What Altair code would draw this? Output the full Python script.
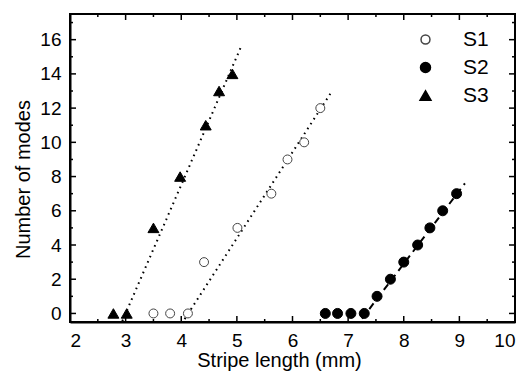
import altair as alt
import pandas as pd

# ---- data ----
s1_x = [3.5, 3.8, 4.12, 4.41, 5.01, 5.62, 5.91, 6.21, 6.5]
s1_y = [0, 0, 0, 3, 5, 7, 9, 10, 12]
s2_x = [6.59, 6.81, 7.05, 7.29, 7.52, 7.76, 8.0, 8.25, 8.47, 8.7, 8.95]
s2_y = [0, 0, 0, 0, 1, 2, 3, 4, 5, 6, 7]
s3_x = [2.78, 3.02, 3.5, 3.98, 4.44, 4.68, 4.92]
s3_y = [0, 0, 5, 8, 11, 13, 14]

# fitted straight lines (end points)
fit_series = ["S1", "S1", "S2", "S2", "S3", "S3"]
fit_x = [4.06, 6.68, 7.25, 9.1, 2.94, 5.09]
fit_y = [-0.33, 12.84, -0.3, 7.6, -0.45, 15.7]

series_names = ["S1", "S2", "S3"]
x_major = [2, 3, 4, 5, 6, 7, 8, 9, 10]
x_minor = [2.5, 3.5, 4.5, 5.5, 6.5, 7.5, 8.5, 9.5]
y_major = [0, 2, 4, 6, 8, 10, 12, 14, 16]
y_minor = [1, 3, 5, 7, 9, 11, 13, 15, 17]

W, H = 445, 308
FONT = "Liberation Sans"

pts = pd.DataFrame(
    {"x": s1_x + s2_x + s3_x,
     "y": s1_y + s2_y + s3_y,
     "series": ["S1"] * len(s1_x) + ["S2"] * len(s2_x) + ["S3"] * len(s3_x)}
)
fits = pd.DataFrame({"x": fit_x, "y": fit_y, "fit": fit_series})

xscale = alt.Scale(domain=[2, 10], nice=False, zero=False)
yscale = alt.Scale(domain=[-0.5, 17.5], nice=False, zero=False)

x_enc = alt.X("x:Q", scale=xscale,
              axis=alt.Axis(title="Stripe length (mm)", values=x_major, format="d",
                            titleX=209))
y_enc = alt.Y("y:Q", scale=yscale,
              axis=alt.Axis(title="Number of modes", values=y_major, format="d",
                            titleY=165))

dotted = alt.Chart(fits).transform_filter(alt.datum.fit != "S2").mark_line(
    strokeWidth=2, color="black", strokeDash=[1.6, 4.2]
).encode(x=x_enc, y=y_enc, detail="fit:N")
dashed = alt.Chart(fits).transform_filter(alt.datum.fit == "S2").mark_line(
    strokeWidth=2, color="black", strokeDash=[7, 5]
).encode(x=x_enc, y=y_enc, detail="fit:N")

points = alt.Chart(pts).mark_point(strokeWidth=1, opacity=1).encode(
    x=x_enc, y=y_enc,
    shape=alt.Shape("series:N", title=None,
                    scale=alt.Scale(domain=series_names,
                                    range=["circle", "circle", "triangle-up"]),
                    legend=alt.Legend(orient="none", legendX=345, legendY=15)),
    fill=alt.Fill("series:N", title=None,
                  scale=alt.Scale(domain=series_names,
                                  range=["white", "black", "black"])),
    stroke=alt.Stroke("series:N", title=None,
                      scale=alt.Scale(domain=series_names,
                                      range=["#444444", "black", "black"])),
    size=alt.Size("series:N", title=None,
                  scale=alt.Scale(domain=series_names, range=[80, 120, 160])),
)

def tick_layer(vals, axis, length):
    base = alt.Chart(pd.DataFrame({axis: vals})).mark_rule(color="black", strokeWidth=1.5)
    if axis == "x":
        bottom = base.encode(x=x_enc, y=alt.value(H), y2=alt.value(H - length))
        top = base.encode(x=x_enc, y=alt.value(0), y2=alt.value(length))
        return bottom + top
    left = base.encode(y=y_enc, x=alt.value(0), x2=alt.value(length))
    right = base.encode(y=y_enc, x=alt.value(W), x2=alt.value(W - length))
    return left + right

ticks = (tick_layer(x_major, "x", 6) + tick_layer(x_minor, "x", 3)
         + tick_layer(y_major, "y", 6) + tick_layer(y_minor, "y", 3))

chart = alt.layer(dotted, dashed, points, ticks).properties(
    width=W, height=H,
    autosize=alt.AutoSizeParams(type="none"),
    padding={"left": 70, "top": 14, "right": 16, "bottom": 53},
    background="white",
).configure_view(
    stroke="black", strokeWidth=2
).configure_axis(
    grid=False, ticks=False, domain=True, domainColor="black", domainWidth=2,
    labelFont=FONT, labelFontSize=19, labelColor="black", labelPadding=9,
    titleFont=FONT, titleFontSize=20, titleFontWeight="normal", titleColor="black",
).configure_axisX(titlePadding=0).configure_axisY(titlePadding=6
).configure_legend(
    padding=0, labelFontSize=21, labelFont=FONT, labelColor="black",
    labelOffset=27, rowPadding=6,
)

chart.save("out.html", embed_options={"renderer": "svg", "actions": False})
